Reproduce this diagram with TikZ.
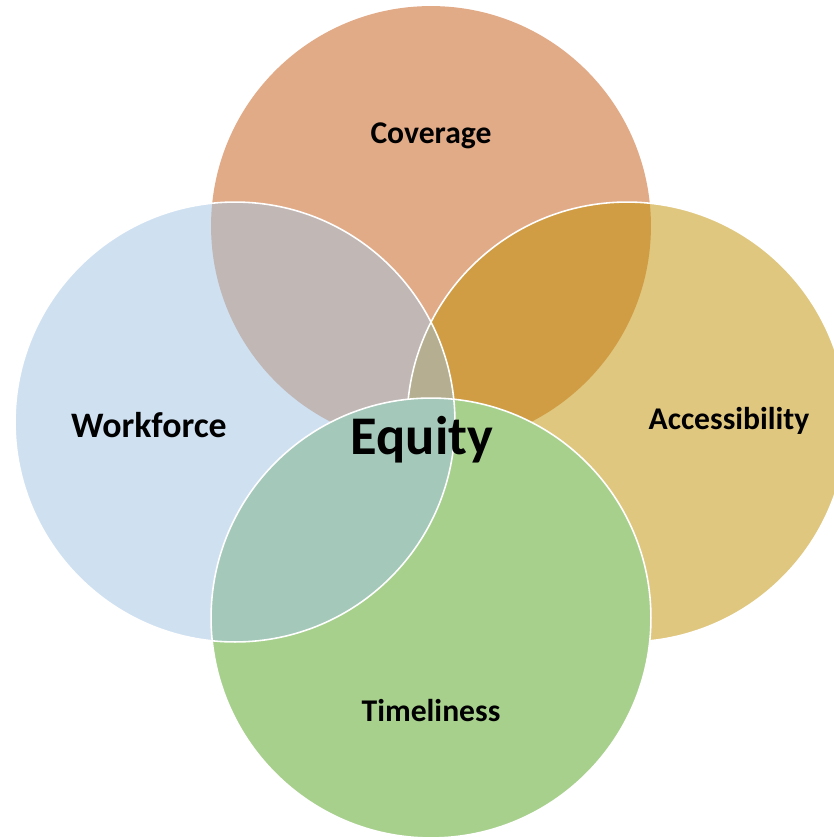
\documentclass[tikz,border=0pt]{standalone}
\usepackage{fontspec}
\setmainfont{Carlito}
\definecolor{coverfill}{RGB}{226,171,136}
\definecolor{workfill}{RGB}{207,224,241}
\definecolor{accfill}{RGB}{224,199,127}
\definecolor{timefill}{RGB}{168,208,141}
\definecolor{coverwork}{RGB}{193,183,181}
\definecolor{coveracc}{RGB}{208,157,69}
\definecolor{midfill}{RGB}{181,174,144}
\definecolor{worktime}{RGB}{164,200,186}
\begin{document}
\begin{tikzpicture}[x=0.02cm,y=-0.02cm,
    lbl/.style={font=\bfseries\fontsize{18}{21}\selectfont},
    rim/.style={draw=white,line width=0.9pt}]
    \useasboundingbox (0,0) rectangle (834,839);
    \coordinate (C) at (431,226);
    \coordinate (W) at (235,422);
    \coordinate (A) at (627,422);
    \coordinate (T) at (431,618);
    % base circles
    \fill [coverfill] (C) circle (4.4cm);
    \fill [workfill] (W) circle (4.4cm);
    \fill [accfill] (A) circle (4.4cm);
    \begin{scope}
        \clip (C) circle (4.4cm);
        \fill [coverwork] (W) circle (4.4cm);
        \fill [coveracc] (A) circle (4.4cm);
        \clip (W) circle (4.4cm);
        \fill [midfill] (A) circle (4.4cm);
    \end{scope}
    \draw [rim] (A) circle (4.4cm);
    % bottom circle on top
    \fill [timefill] (T) circle (4.4cm);
    \begin{scope}
        \clip (W) circle (4.4cm);
        \fill [worktime] (T) circle (4.4cm);
    \end{scope}
    \draw [rim] (T) circle (4.4cm);
    \draw [rim] (W) circle (4.4cm);
    % labels
    \node [lbl] (cov) at (431,136) {Coverage};
    \node [lbl, font=\bfseries\fontsize{20.4}{24}\selectfont] (wrk) at (149,425) {Workforce};
    \node [lbl] (acc) at (729,421) {Accessibility};
    \node [lbl] (tml) at (431,711) {Timeliness};
    \node [font=\bfseries\fontsize{31}{36}\selectfont] (eq) at (422,440) {Equity};
\end{tikzpicture}
\end{document}
